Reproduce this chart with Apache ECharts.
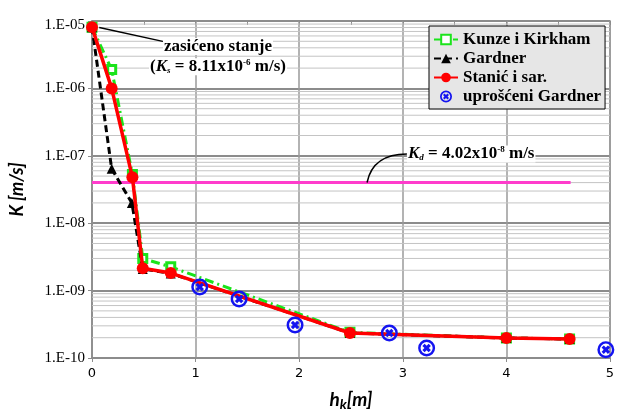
<!DOCTYPE html>
<html>
<head>
<meta charset="utf-8">
<script src="https://cdn.jsdelivr.net/npm/echarts@6/dist/echarts.min.js"></script>
<style>
  html, body { margin: 0; padding: 0; background: #fff; }
  #chart { width: 617px; height: 410px; }
</style>
</head>
<body>
<div id="chart"></div>
<script>
// Hydraulic conductivity K versus suction head h_k for four models
const kunzeX   = [0, 0.19, 0.39, 0.49, 0.76, 2.49, 4.0, 4.61];
const kunzeK   = [8.11e-6, 1.9e-6, 5.3e-8, 3.0e-9, 2.25e-9, 2.4e-10, 1.98e-10, 1.92e-10];

const gardnerX = [0, 0.19, 0.385, 0.49, 0.76, 2.49, 4.0, 4.61];
const gardnerK = [8.11e-6, 6.4e-8, 2.0e-8, 2.1e-9, 1.8e-9, 2.35e-10, 1.98e-10, 1.91e-10];

const stanicX  = [0, 0.19, 0.39, 0.49, 0.76, 2.49, 4.0, 4.61];
const stanicK  = [8.11e-6, 1.0e-6, 4.8e-8, 2.15e-9, 1.82e-9, 2.35e-10, 1.98e-10, 1.91e-10];

const simpleX  = [1.04, 1.42, 1.96, 2.87, 3.23, 4.96];
const simpleK  = [1.13e-9, 7.5e-10, 3.08e-10, 2.35e-10, 1.41e-10, 1.33e-10];

const Ks = 8.11e-6;          // saturated conductivity
const Kd = 4.02e-8;          // reference conductivity line
const KdEndX = 4.62;

const xTicks = [0, 1, 2, 3, 4, 5];
const xMin = 0, xMax = 5;
const yMin = 1e-10, yMax = 1e-5;

const pairs = (xs, ys) => xs.map((x, i) => [x, ys[i]]);

// light horizontal lines at 2..9 within every decade
const minorLevels = [];
for (let e = -10; e < -5; e++) {
  for (let m = 2; m <= 9; m++) minorLevels.push([xMin, m * Math.pow(10, e)]);
}

// circle with a bold cross inside
const crossCircle = 'path://M0,10A10,10 0 1,1 20,10A10,10 0 1,1 0,10Z' +
  'M2.9,10A7.1,7.1 0 1,0 17.1,10A7.1,7.1 0 1,0 2.9,10Z' +
  'M10,12.6L12.4,15L15,12.4L12.6,10L15,7.6L12.4,5L10,7.4L7.6,5L5,7.6L7.4,10L5,12.4L7.6,15Z';

const serif = '"Liberation Serif", "Times New Roman", serif';

const chart = echarts.init(document.getElementById('chart'), null, { renderer: 'canvas' });

const option = {
  animation: false,
  backgroundColor: '#fff',
  grid: {
    left: 92, right: 7, top: 21, bottom: 52,
    outerBoundsMode: 'none', containLabel: false,
    show: true, borderColor: '#8c8c8c', borderWidth: 1.5
  },
  legend: {
    orient: 'vertical',
    left: 429, top: 26,
    backgroundColor: '#e6e6e6',
    borderColor: '#000', borderWidth: 1,
    padding: [5, 4, 4, 4],
    itemWidth: 24, itemHeight: 12, itemGap: 2,
    textStyle: { fontFamily: serif, fontWeight: 'bold', fontSize: 17, color: '#000' },
    data: ['Kunze i Kirkham', 'Gardner', 'Stanić i sar.', 'uprošćeni Gardner']
  },
  xAxis: [{
    type: 'value', min: xMin, max: xMax, interval: 1,
    name: '{h|h}{k|k}{h|[m]}',
    nameLocation: 'middle', nameGap: 30,
    nameTextStyle: {
      rich: {
        h: { fontFamily: 'Lato', fontWeight: 'bold', fontStyle: 'italic', fontSize: 19, color: '#000' },
        k: { fontFamily: 'Lato', fontWeight: 'bold', fontStyle: 'italic', fontSize: 14, color: '#000', padding: [9, 0, 0, 0] }
      }
    },
    axisLine: { lineStyle: { color: '#8c8c8c', width: 1.5 } },
    axisTick: { show: true, length: 4, lineStyle: { color: '#8c8c8c' } },
    axisLabel: {
      margin: 9, fontFamily: '"DejaVu Sans", sans-serif', fontSize: 13, color: '#000',
      formatter: v => xTicks.includes(v) ? String(v) : ''
    },
    splitLine: { show: true, lineStyle: { color: '#9a9a9a', width: 1.5 } }
  }, {
    type: 'value', min: xMin, max: xMax, interval: 0.5, position: 'top',
    axisLine: { show: false },
    axisTick: { show: true, inside: true, length: 4, lineStyle: { color: '#8c8c8c' } },
    axisLabel: { show: false },
    splitLine: { show: false }
  }],
  yAxis: {
    type: 'log', logBase: 10, min: yMin, max: yMax,
    name: 'K [m/s]',
    nameLocation: 'middle', nameGap: 66, nameRotate: 90,
    nameTextStyle: { fontFamily: 'Lato', fontWeight: 'bold', fontStyle: 'italic', fontSize: 18, color: '#000' },
    axisLine: { show: true, lineStyle: { color: '#8c8c8c', width: 1.5 } },
    axisTick: { show: true, length: 4, lineStyle: { color: '#8c8c8c' } },
    axisLabel: {
      margin: 7, fontFamily: serif, fontSize: 15, color: '#000',
      verticalAlign: 'middle',
      formatter: v => {
        const e = Math.round(Math.log10(v));
        const s = '1.E' + (e < 0 ? '-' : '+') + String(Math.abs(e)).padStart(2, '0');
        return e === -5 ? '{top|' + s + '}' : s;
      },
      rich: { top: { fontFamily: serif, fontSize: 15, color: '#000', padding: [9, 0, 0, 0] } }
    },
    splitLine: { show: true, lineStyle: { color: '#8c8c8c', width: 1.8 } }
  },
  series: [
    {
      name: 'minor-grid', type: 'custom', data: minorLevels, silent: true, z: 1,
      renderItem: (params, api) => {
        const y = api.value(1);
        const a = api.coord([xMin, y]);
        const b = api.coord([xMax, y]);
        return {
          type: 'line', silent: true,
          shape: { x1: a[0], y1: a[1], x2: b[0], y2: b[1] },
          style: { stroke: '#c4c4c4', lineWidth: 1 }
        };
      }
    },
    {
      name: 'Kd', type: 'line', data: [[0, Kd], [KdEndX, Kd]],
      symbol: 'none', silent: true, z: 3,
      lineStyle: { color: '#ff3ccc', width: 3 }
    },
    {
      name: 'Kunze i Kirkham', type: 'line', data: pairs(kunzeX, kunzeK), z: 4,
      symbol: 'rect', symbolSize: 8,
      lineStyle: { color: '#1be41b', width: 3, type: [9, 4, 2, 4] },
      itemStyle: { color: '#ffffff', borderColor: '#1be41b', borderWidth: 3 }
    },
    {
      name: 'Gardner', type: 'line', data: pairs(gardnerX, gardnerK), z: 5,
      symbol: 'triangle', symbolSize: 10,
      lineStyle: { color: '#000', width: 3, type: [7, 4] },
      itemStyle: { color: '#000' }
    },
    {
      name: 'Stanić i sar.', type: 'line', data: pairs(stanicX, stanicK), z: 6,
      symbol: 'circle', symbolSize: 12,
      lineStyle: { color: '#ff0000', width: 3.5 },
      itemStyle: { color: '#ff0000' },
      markLine: {
        silent: true, symbol: ['none', 'arrow'], symbolSize: [0, 9],
        label: { show: false },
        lineStyle: { color: '#000', width: 1.5, type: 'solid' },
        data: [[{ coord: [0.705, 4.9e-6] }, { coord: [0.07, 8.0e-6] }]]
      }
    },
    {
      name: 'uprošćeni Gardner', type: 'scatter', data: pairs(simpleX, simpleK), z: 7,
      symbol: crossCircle, symbolSize: 17,
      itemStyle: { color: '#1414f0', opacity: 1 }
    }
  ]
};

chart.setOption(option);

// annotations anchored to data positions
function px(x, y) { return chart.convertToPixel({ xAxisIndex: 0, yAxisIndex: 0 }, [x, y]); }

const richBase = {
  t: { fontFamily: serif, fontWeight: 'bold', fontSize: 17, color: '#000' },
  i: { fontFamily: serif, fontWeight: 'bold', fontStyle: 'italic', fontSize: 17, color: '#000' },
  sub: { fontFamily: serif, fontWeight: 'bold', fontStyle: 'italic', fontSize: 9, color: '#000', verticalAlign: 'bottom', padding: [6, 0, 0, 0] },
  sup: { fontFamily: serif, fontWeight: 'bold', fontSize: 9, color: '#000', verticalAlign: 'top', padding: [0, 0, 6, 0] }
};

const pSat1 = px(1.216, 4.2e-6);
const pSat2 = px(1.216, 2.1e-6);
const pKdText = px(3.04, 1.06e-7);
const pKdStart = px(2.655, Kd);

chart.setOption({
  graphic: [
    {
      type: 'text', z: 100,
      x: pSat1[0], y: pSat1[1],
      style: {
        text: '{t|zasićeno stanje}', rich: richBase,
        align: 'center', verticalAlign: 'middle',
        backgroundColor: '#fff', padding: [0, 1]
      }
    },
    {
      type: 'text', z: 100,
      x: pSat2[0], y: pSat2[1],
      style: {
        text: '{t|(}{i|K}{sub|s}{t| = 8.11x10}{sup|-6}{t| m/s)}', rich: richBase,
        align: 'center', verticalAlign: 'middle',
        backgroundColor: '#fff', padding: [0, 1]
      }
    },
    {
      type: 'bezierCurve', z: 100,
      shape: {
        x1: pKdStart[0], y1: pKdStart[1],
        cpx1: pKdStart[0] + 6, cpy1: pKdText[1],
        x2: pKdText[0], y2: pKdText[1]
      },
      style: { stroke: '#000', lineWidth: 1.5, fill: 'none' }
    },
    {
      type: 'text', z: 100,
      x: pKdText[0], y: pKdText[1],
      style: {
        text: '{i|K}{sub|d}{t| = 4.02x10}{sup|-8}{t| m/s}', rich: richBase,
        align: 'left', verticalAlign: 'middle',
        backgroundColor: '#fff', padding: [0, 1]
      }
    }
  ]
});
</script>
</body>
</html>
